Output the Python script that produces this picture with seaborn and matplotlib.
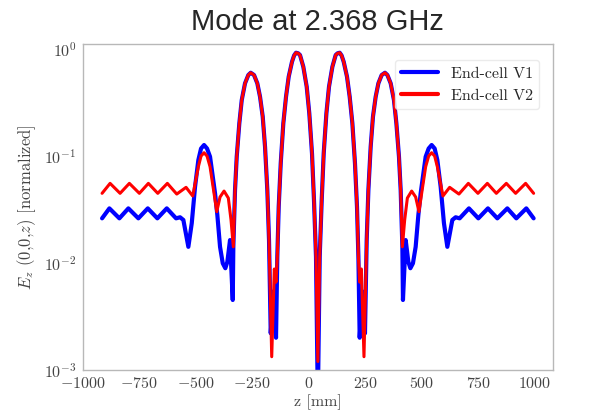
import matplotlib
matplotlib.use("Agg")
import matplotlib.pyplot as plt
import seaborn as sns
import pandas as pd

# On-axis longitudinal field of the mode for the two end-cell designs
z_v1 = [-914.3, -882.0, -837.8, -798.0, -753.8, -712.2, -669.8, -628.2, -587.1, -569.4,
        -554.8, -532.7, -517.7, -503.1, -488.5, -476.6, -463.3, -450.1, -436.8, -414.7,
        -404.5, -392.6, -380.6, -369.2, -360.3, -348.4, -336.4, -333.8, -326.3, -318.8,
        -307.3, -296.6, -282.1, -267.5, -256.9, -242.3, -227.7, -215.7, -203.8, -193.6,
        -183.5, -176.0, -168.4, -157.0, -145.0, -139.3, -133.1, -124.2, -112.7, -100.8,
        -88.9, -74.3, -65.0, -56.6, -47.0, -38.9, -24.3, -9.3, 2.2, 14.1,
        22.9, 31.8, 40.0, 48.2, 57.1, 65.9, 77.8, 89.3, 104.3, 118.9,
        127.0, 136.6, 145.0, 154.3, 168.9, 180.8, 192.7, 204.2, 213.1, 219.3,
        225.0, 237.0, 248.4, 256.0, 263.5, 273.6, 283.8, 295.7, 307.7, 322.3,
        336.9, 347.5, 362.1, 376.6, 387.3, 398.8, 406.3, 413.8, 416.4, 428.4,
        440.3, 449.2, 460.6, 472.6, 484.5, 494.7, 516.8, 530.1, 543.3, 556.6,
        568.5, 583.1, 597.7, 612.7, 634.8, 649.4, 667.1, 708.2, 749.8, 792.2,
        833.8, 878.0, 917.8, 962.0, 994.3]
ez_v1 = [0.0260, 0.0322, 0.0260, 0.0322, 0.0260, 0.0322, 0.0260, 0.0322, 0.0260, 0.0266,
         0.0251, 0.0141, 0.0234, 0.0513, 0.0910, 0.1165, 0.1256, 0.1165, 0.0977, 0.0445,
         0.0279, 0.0141, 0.0099, 0.0089, 0.0102, 0.0163, 0.0045, 0.0141, 0.0478, 0.0977,
         0.200, 0.330, 0.4725, 0.565, 0.593, 0.565, 0.4725, 0.354, 0.231, 0.121,
         0.0478, 0.0163, 0.0022, 0.0054, 0.0020, 0.0114, 0.0334, 0.0848, 0.200, 0.354,
         0.545, 0.751, 0.86, 0.912, 0.90, 0.868, 0.675, 0.439, 0.248, 0.105,
         0.0385, 0.0114, 0.0005, 0.0114, 0.0385, 0.105, 0.248, 0.439, 0.675, 0.868,
         0.90, 0.912, 0.86, 0.751, 0.545, 0.354, 0.200, 0.0848, 0.0334, 0.0114,
         0.0020, 0.0054, 0.0022, 0.0163, 0.0478, 0.121, 0.231, 0.354, 0.4725, 0.565,
         0.593, 0.565, 0.4725, 0.330, 0.200, 0.0977, 0.0478, 0.0141, 0.0045, 0.0163,
         0.0102, 0.0089, 0.0099, 0.0141, 0.0279, 0.0445, 0.0977, 0.1165, 0.1256, 0.1165,
         0.0910, 0.0513, 0.0234, 0.0141, 0.0251, 0.0266, 0.0260, 0.0322, 0.0260, 0.0322,
         0.0260, 0.0322, 0.0260, 0.0322, 0.0260]

z_v2 = [-914.3, -878.9, -834.7, -793.6, -749.4, -709.6, -668.0, -625.6, -584.0, -542.9,
        -513.3, -488.5, -476.6, -463.3, -450.1, -436.8, -421.3, -407.2, -392.6, -374.9,
        -355.9, -344.0, -333.8, -326.3, -318.8, -307.3, -296.6, -282.1, -267.5, -256.9,
        -242.3, -227.7, -215.7, -203.8, -193.6, -183.5, -176.0, -164.0, -152.5, -145.0,
        -139.3, -133.1, -124.2, -112.7, -100.8, -88.9, -74.3, -65.0, -56.6, -47.0,
        -38.9, -24.3, -9.3, 2.2, 14.1, 22.9, 31.8, 40.0, 48.2, 57.1,
        65.9, 77.8, 89.3, 104.3, 118.9, 127.0, 136.6, 145.0, 154.3, 168.9,
        180.8, 192.7, 204.2, 213.1, 219.3, 225.0, 232.5, 244.0, 256.0, 263.5,
        273.6, 283.8, 295.7, 307.7, 322.3, 336.9, 347.5, 362.1, 376.6, 387.3,
        398.8, 406.3, 413.8, 424.0, 435.9, 454.9, 472.6, 487.2, 501.3, 516.8,
        530.1, 543.3, 556.6, 568.5, 593.3, 622.9, 664.0, 705.6, 748.0, 789.6,
        829.4, 873.6, 914.7, 958.9, 994.3]
ez_v2 = [0.0445, 0.0551, 0.0445, 0.0551, 0.0445, 0.0551, 0.0445, 0.0551, 0.0438, 0.0506,
         0.0420, 0.0788, 0.0991, 0.1064, 0.0991, 0.0788, 0.0478, 0.0300, 0.0411, 0.0467,
         0.0402, 0.0251, 0.0141, 0.0478, 0.0977, 0.200, 0.330, 0.4725, 0.565, 0.593,
         0.565, 0.4725, 0.354, 0.231, 0.121, 0.0478, 0.0163, 0.00133, 0.00876, 0.0066,
         0.0114, 0.0334, 0.0848, 0.200, 0.354, 0.545, 0.751, 0.86, 0.912, 0.90,
         0.868, 0.675, 0.439, 0.248, 0.105, 0.0385, 0.0114, 0.0012, 0.0114, 0.0385,
         0.105, 0.248, 0.439, 0.675, 0.868, 0.90, 0.912, 0.86, 0.751, 0.545,
         0.354, 0.200, 0.0848, 0.0334, 0.0114, 0.0066, 0.00876, 0.00133, 0.0163, 0.0478,
         0.121, 0.231, 0.354, 0.4725, 0.565, 0.593, 0.565, 0.4725, 0.330, 0.200,
         0.0977, 0.0478, 0.0141, 0.0251, 0.0402, 0.0467, 0.0411, 0.0300, 0.0478, 0.0788,
         0.0991, 0.1064, 0.0991, 0.0788, 0.0420, 0.0506, 0.0438, 0.0551, 0.0445, 0.0551,
         0.0445, 0.0551, 0.0445, 0.0551, 0.0445]

series_names = ["End-cell V1", "End-cell V2"]
series_colors = ["#0000ff", "#ff0000"]
series_widths = [3.0, 2.2]
x_ticks = [-1000, -750, -500, -250, 0, 250, 500, 750, 1000]
title_text = "Mode at 2.368 GHz"

sns.set_style("white")
plt.rcParams.update({
    "font.family": "serif",
    "font.serif": ["cmr10", "DejaVu Serif"],
    "mathtext.fontset": "cm",
    "axes.formatter.use_mathtext": True,
    "axes.unicode_minus": True,
})

fig = plt.figure(figsize=(5.95, 4.12), dpi=100)
ax = fig.add_axes([82.7 / 595, 1 - 370 / 412, (553 - 82.7) / 595, (370 - 44) / 412])

frames = [pd.DataFrame({"z": z_v1, "Ez": ez_v1}), pd.DataFrame({"z": z_v2, "Ez": ez_v2})]
for df, name, col, lw in zip(frames, series_names, series_colors, series_widths):
    sns.lineplot(data=df, x="z", y="Ez", ax=ax, color=col, linewidth=lw,
                 label=name, sort=False, estimator=None)

ax.set_yscale("log")
ax.set_ylim(1e-3, 1.1)
ax.set_xlim(-1000, 1080)
ax.set_xticks(x_ticks)

text_col = "#444444"
ax.set_xlabel("z [mm]", fontsize=11.5, color=text_col, labelpad=2)
ax.set_ylabel(r"$E_z$ (0,0,$z$) [normalized]", fontsize=12, color=text_col, labelpad=4)
ax.tick_params(axis="both", labelsize=11.5, colors=text_col, length=2.5, width=0.6,
               pad=2)
ax.tick_params(axis="y", which="minor", length=1.5, width=0.5, colors="#bbbbbb")
ax.tick_params(axis="both", which="major", color="#bbbbbb")
for sp in ax.spines.values():
    sp.set_color("#b8b8b8")
    sp.set_linewidth(1.0)

ax.set_title(title_text, fontsize=21, family=["Liberation Sans", "DejaVu Sans"],
             color="#262626", pad=10)

leg = ax.legend(loc="upper right", fontsize=11.5, frameon=True, fancybox=True,
                framealpha=0.8, borderpad=0.4, handlelength=2.3,
                bbox_to_anchor=(0.988, 0.975))
leg.get_frame().set_edgecolor("#e6e6e6")
for line in leg.get_lines():
    line.set_linewidth(3.0)

fig.savefig("out.png", dpi=100)
